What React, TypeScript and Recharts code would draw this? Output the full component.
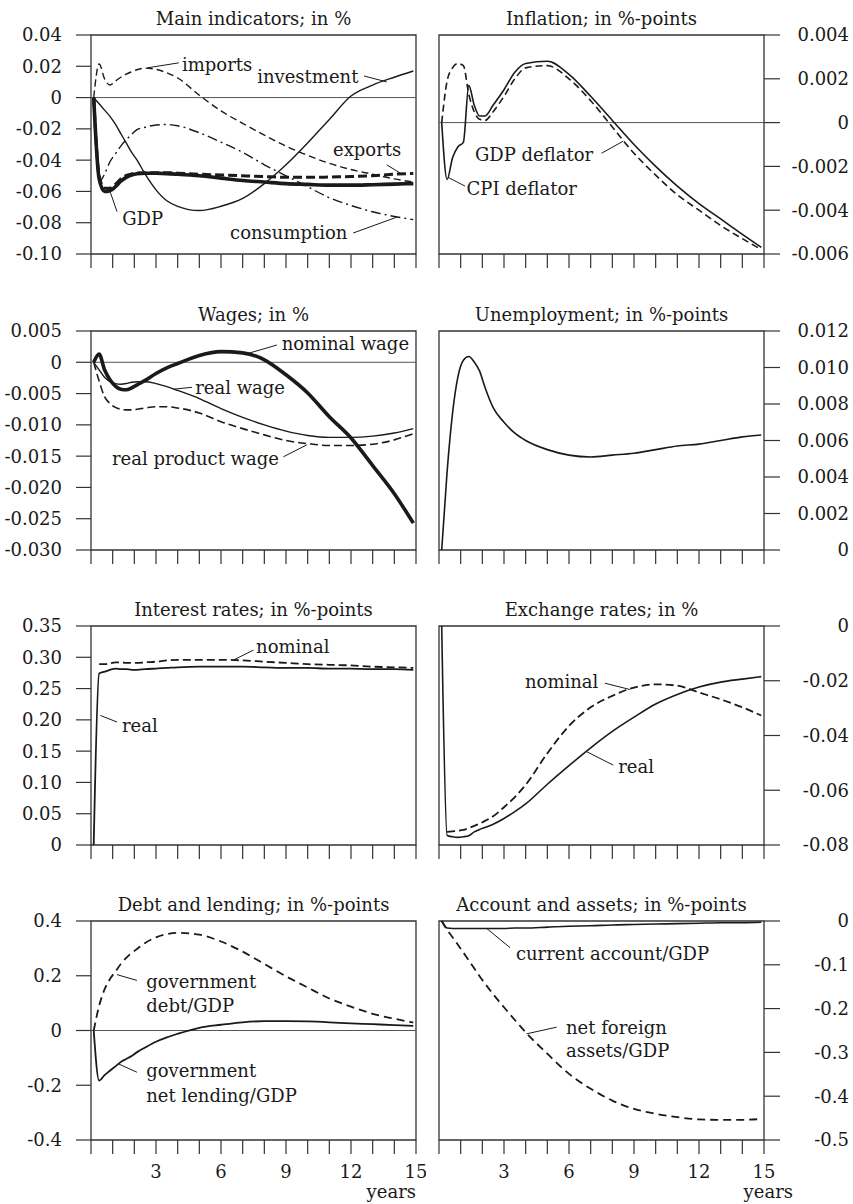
import React from 'react';
import {
  LineChart,
  Line,
  XAxis,
  YAxis,
  ReferenceLine,
  ReferenceArea,
  ReferenceDot,
  Label,
} from 'recharts';

const INK = '#1a1a1a';
const FRAME = '#333';

// simulation years (quarters early on, then yearly)
const YEARS = [0.125, 0.375, 0.625, 0.875, 1.125, 1.375, 1.625, 1.875, 2.125, 2.5, 3, 3.5, 4, 5, 6, 7, 8, 9, 10, 11, 12, 13, 14, 14.875];
const YEAR_TICKS = [0, 1, 2, 3, 4, 5, 6, 7, 8, 9, 10, 11, 12, 13, 14, 15];

// Main indicators; in %
const GDP = [0, -0.052, -0.06, -0.0595, -0.057, -0.0535, -0.051, -0.0495, -0.0487, -0.0484, -0.0484, -0.0486, -0.049, -0.05, -0.0515, -0.053, -0.054, -0.055, -0.0555, -0.056, -0.056, -0.0557, -0.0553, -0.055];
const EXPORTS = [0, -0.05, -0.058, -0.058, -0.0555, -0.052, -0.0498, -0.0488, -0.0482, -0.048, -0.048, -0.048, -0.0483, -0.049, -0.0495, -0.05, -0.0505, -0.051, -0.051, -0.0508, -0.0505, -0.05, -0.049, -0.0485];
const INVESTMENT = [0, -0.004, -0.008, -0.012, -0.017, -0.023, -0.029, -0.035, -0.04, -0.049, -0.059, -0.066, -0.0695, -0.0722, -0.0695, -0.0645, -0.055, -0.043, -0.029, -0.014, 0.001, 0.008, 0.013, 0.017];
const CONSUMPTION = [null, -0.055, -0.049, -0.041, -0.036, -0.031, -0.027, -0.0235, -0.0205, -0.019, -0.0175, -0.0172, -0.018, -0.0225, -0.0285, -0.035, -0.043, -0.05, -0.057, -0.064, -0.069, -0.073, -0.076, -0.078];
const IMPORTS = [0, 0.0215, 0.012, 0.008, 0.0105, 0.013, 0.015, 0.0165, 0.0178, 0.0188, 0.018, 0.0158, 0.0125, 0.0015, -0.0085, -0.0165, -0.024, -0.031, -0.037, -0.042, -0.046, -0.049, -0.052, -0.054];

// Inflation; in %-points
const CPI_DEFLATOR = [0, -0.0026, -0.0016, -0.0011, -0.0009, 0.0017, 0.0008, 0.0003, 0.0003, 0.0008, 0.0015, 0.0023, 0.0027, 0.0028, 0.0022, 0.0012, 0.0001, -0.001, -0.002, -0.0029, -0.0037, -0.0044, -0.0051, -0.0057];
const GDP_DEFLATOR = [0, 0.0019, 0.0025, 0.0027, 0.0026, 0.0013, 0.0005, 0.00015, 0.0001, 0.0005, 0.0012, 0.002, 0.0025, 0.0026, 0.002, 0.001, -0.0002, -0.0014, -0.0024, -0.0033, -0.004, -0.0047, -0.0053, -0.0058];

// Wages; in %
const NOMINAL_WAGE = [0, 0.0013, -0.0012, -0.0028, -0.0038, -0.0043, -0.0044, -0.0041, -0.0036, -0.0029, -0.0018, -0.0009, -0.0002, 0.0011, 0.0017, 0.0015, 0.0004, -0.002, -0.0049, -0.0087, -0.0121, -0.0165, -0.021, -0.0257];
const REAL_WAGE = [0, -0.0012, -0.0024, -0.0031, -0.0034, -0.0035, -0.0034, -0.0032, -0.0031, -0.0031, -0.0034, -0.0039, -0.0045, -0.0058, -0.0074, -0.0088, -0.01, -0.011, -0.0117, -0.012, -0.012, -0.0118, -0.0113, -0.0106];
const REAL_PRODUCT_WAGE = [0, -0.003, -0.0055, -0.0066, -0.0072, -0.0075, -0.0076, -0.0076, -0.0075, -0.0073, -0.0071, -0.0071, -0.0073, -0.0081, -0.0095, -0.0106, -0.0116, -0.0125, -0.013, -0.0133, -0.0133, -0.0131, -0.0124, -0.0114];

// Unemployment; in %-points
const UNEMPLOYMENT = [0, 0.0043, 0.0075, 0.0095, 0.0104, 0.0106, 0.0103, 0.0098, 0.0089, 0.0078, 0.007, 0.0064, 0.006, 0.0055, 0.0052, 0.0051, 0.0052, 0.0053, 0.0055, 0.0057, 0.0058, 0.006, 0.0062, 0.0063];

// Interest rates; in %-points
const REAL_RATE = [0, 0.274, 0.277, 0.28, 0.282, 0.281, 0.281, 0.28, 0.28, 0.281, 0.282, 0.283, 0.284, 0.285, 0.285, 0.285, 0.284, 0.283, 0.283, 0.282, 0.282, 0.281, 0.281, 0.28];
const NOMINAL_RATE = [null, 0.289, 0.289, 0.29, 0.292, 0.292, 0.291, 0.291, 0.291, 0.292, 0.293, 0.295, 0.296, 0.296, 0.296, 0.295, 0.293, 0.291, 0.289, 0.288, 0.287, 0.285, 0.284, 0.283];

// Exchange rates; in %
const REAL_FX = [0, -0.0765, -0.077, -0.0772, -0.077, -0.0766, -0.0752, -0.0743, -0.0736, -0.0724, -0.0703, -0.0678, -0.065, -0.0578, -0.051, -0.0445, -0.0385, -0.0333, -0.0285, -0.025, -0.0223, -0.0205, -0.0194, -0.0185];
const NOMINAL_FX = [null, -0.0752, -0.075, -0.0748, -0.0745, -0.0738, -0.073, -0.0722, -0.0712, -0.0695, -0.0662, -0.0625, -0.058, -0.0465, -0.0365, -0.0297, -0.0255, -0.0225, -0.0213, -0.0218, -0.0243, -0.0268, -0.0297, -0.0327];

// Debt and lending; in %-points
const GOV_DEBT = [0, 0.09, 0.15, 0.188, 0.215, 0.243, 0.265, 0.283, 0.298, 0.32, 0.34, 0.352, 0.357, 0.35, 0.325, 0.288, 0.243, 0.198, 0.157, 0.117, 0.087, 0.061, 0.043, 0.029];
const GOV_LENDING = [0, -0.183, -0.163, -0.147, -0.131, -0.115, -0.104, -0.093, -0.079, -0.062, -0.041, -0.025, -0.012, 0.01, 0.021, 0.03, 0.034, 0.034, 0.033, 0.03, 0.026, 0.023, 0.02, 0.017];

// Account and assets; in %-points
const CURRENT_ACCOUNT = [0, -0.016, -0.017, -0.017, -0.017, -0.017, -0.017, -0.017, -0.017, -0.017, -0.017, -0.016, -0.016, -0.014, -0.012, -0.011, -0.009, -0.008, -0.007, -0.006, -0.005, -0.004, -0.004, -0.003];
const NET_FOREIGN_ASSETS = [0, -0.02, -0.037, -0.054, -0.072, -0.09, -0.108, -0.126, -0.143, -0.167, -0.197, -0.226, -0.254, -0.303, -0.349, -0.383, -0.41, -0.429, -0.44, -0.448, -0.453, -0.454, -0.454, -0.452];

// y ticks per panel
const MAIN_TICKS = [0.04, 0.02, 0, -0.02, -0.04, -0.06, -0.08, -0.1];
const INFL_TICKS = [0.004, 0.002, 0, -0.002, -0.004, -0.006];
const WAGE_TICKS = [0.005, 0, -0.005, -0.01, -0.015, -0.02, -0.025, -0.03];
const UNEMP_TICKS = [0.012, 0.01, 0.008, 0.006, 0.004, 0.002, 0];
const RATE_TICKS = [0.35, 0.3, 0.25, 0.2, 0.15, 0.1, 0.05, 0];
const FX_TICKS = [0, -0.02, -0.04, -0.06, -0.08];
const DEBT_TICKS = [0.4, 0.2, 0, -0.2, -0.4];
const ACC_TICKS = [0, -0.1, -0.2, -0.3, -0.4, -0.5];

const PLOT_TOPS = [35, 331, 626, 921];
const PLOT_H = 219;

type Series = { name: string; values: (number | null)[]; width: number; dash?: string };
type Note = { text: string; t: number; v: number };
type Leader = [number, number, number, number];

interface PanelProps {
  title: string;
  col: 0 | 1;
  row: number;
  ticks: number[];
  decimals: number;
  series: Series[];
  notes: Note[];
  leaders: Leader[];
  zero?: boolean;
}

const fmt = (v: number, d: number) => (v === 0 ? '0' : v.toFixed(d));
const fmtYear = (v: number) => (v > 0 && v % 3 === 0 ? String(v) : '');

function Panel({ title, col, row, ticks, decimals, series, notes, leaders, zero }: PanelProps) {
  const isLeft = col === 0;
  const last = row === 3;
  const width = isLeft ? 426 : 427;
  const xh = last ? 64 : 30;
  const height = 35 + PLOT_H + xh;
  const top = PLOT_TOPS[row] - 35;
  const lo = Math.min(...ticks);
  const hi = Math.max(...ticks);

  const data = YEARS.map((t, i) => {
    const r: Record<string, number | null> = { t };
    series.forEach((s) => (r[s.name] = s.values[i]));
    return r;
  });

  const yTick = (p: any) => (
    <text x={isLeft ? p.x : p.x + 69} y={p.y} dy="0.36em" textAnchor="end" fontSize={18} fill={INK}>
      {fmt(p.payload.value, decimals)}
    </text>
  );

  return (
    <div style={{ position: 'absolute', left: isLeft ? 0 : 426, top, width, height }}>
      <LineChart
        width={width}
        height={height}
        data={data}
        margin={{ top: 35, right: isLeft ? 10 : 0, left: isLeft ? 0 : 13, bottom: 0 }}
      >
        <XAxis
          dataKey="t"
          type="number"
          domain={[0, 15]}
          ticks={YEAR_TICKS}
          interval={0}
          height={xh}
          axisLine={false}
          tickSize={14}
          tickMargin={11}
          tickLine={{ stroke: FRAME, strokeWidth: 1.2 }}
          tick={{ fontSize: 18, fill: INK }}
          tickFormatter={last ? fmtYear : () => ''}
        >
          {last && (
            <Label
              value="years"
              position="insideBottomRight"
              offset={0}
              dx={isLeft ? 0 : 29}
              dy={-6}
              fontSize={18}
              fill={INK}
            />
          )}
        </XAxis>
        <YAxis
          orientation={isLeft ? 'left' : 'right'}
          width={isLeft ? 91 : 89}
          type="number"
          domain={[lo, hi]}
          ticks={ticks}
          interval={0}
          axisLine={false}
          tickSize={isLeft ? 15 : 16}
          tickMargin={isLeft ? 14 : 0}
          tickLine={{ stroke: FRAME, strokeWidth: 1.2 }}
          tick={yTick}
        />
        <ReferenceArea x1={0} x2={15} y1={lo} y2={hi} fill="none" stroke={FRAME} strokeWidth={1.3} ifOverflow="visible" />
        {zero && <ReferenceLine y={0} stroke="#555" strokeWidth={1} />}
        {leaders.map((l, i) => (
          <ReferenceLine
            key={'l' + i}
            segment={[{ x: l[0], y: l[1] }, { x: l[2], y: l[3] }]}
            stroke={INK}
            strokeWidth={1}
            ifOverflow="visible"
          />
        ))}
        {series.map((s) => (
          <Line
            key={s.name}
            dataKey={s.name}
            type="monotone"
            stroke={INK}
            strokeWidth={s.width}
            strokeDasharray={s.dash}
            dot={false}
            activeDot={false}
            isAnimationActive={false}
          />
        ))}
        {notes.map((n, i) => (
          <ReferenceDot
            key={'n' + i}
            x={n.t}
            y={n.v}
            r={0}
            fill="none"
            stroke="none"
            ifOverflow="visible"
            label={{ value: n.text, position: 'right', offset: 0, fill: INK, fontSize: 18 }}
          />
        ))}
      </LineChart>
      <div
        style={{
          position: 'absolute',
          left: isLeft ? 91 : 13,
          width: 325,
          top: 7,
          textAlign: 'center',
          fontSize: 18,
          lineHeight: '24px',
          whiteSpace: 'nowrap',
        }}
      >
        {title}
      </div>
    </div>
  );
}

const PANELS: PanelProps[] = [
  {
    title: 'Main indicators; in %',
    col: 0,
    row: 0,
    ticks: MAIN_TICKS,
    decimals: 2,
    zero: true,
    series: [
      { name: 'imports', values: IMPORTS, width: 1.4, dash: '7 4' },
      { name: 'consumption', values: CONSUMPTION, width: 1.4, dash: '10 4 2 4' },
      { name: 'investment', values: INVESTMENT, width: 1.4 },
      { name: 'GDP', values: GDP, width: 3.6 },
      { name: 'exports', values: EXPORTS, width: 3, dash: '9 4' },
    ],
    notes: [
      { text: 'imports', t: 4.2, v: 0.0208 },
      { text: 'investment', t: 7.67, v: 0.0131 },
      { text: 'exports', t: 11.17, v: -0.0335 },
      { text: 'GDP', t: 1.44, v: -0.0775 },
      { text: 'consumption', t: 6.42, v: -0.0866 },
    ],
    leaders: [
      [2.6, 0.019, 4.05, 0.0222],
      [12.6, 0.0138, 13.65, 0.01],
      [13.65, -0.043, 14.3, -0.0485],
      [1.2, -0.0729, 0.89, -0.0605],
      [12.1, -0.0866, 14.1, -0.0765],
    ],
  },
  {
    title: 'Inflation; in %-points',
    col: 1,
    row: 0,
    ticks: INFL_TICKS,
    decimals: 3,
    zero: true,
    series: [
      { name: 'GDP deflator', values: GDP_DEFLATOR, width: 1.6, dash: '7 4' },
      { name: 'CPI deflator', values: CPI_DEFLATOR, width: 1.6 },
    ],
    notes: [
      { text: 'GDP deflator', t: 1.66, v: -0.00148 },
      { text: 'CPI deflator', t: 1.27, v: -0.003 },
    ],
    leaders: [
      [7.5, -0.0014, 8.5, -0.00085],
      [1.2, -0.0029, 0.42, -0.0025],
    ],
  },
  {
    title: 'Wages; in %',
    col: 0,
    row: 1,
    ticks: WAGE_TICKS,
    decimals: 3,
    zero: true,
    series: [
      { name: 'real product wage', values: REAL_PRODUCT_WAGE, width: 1.6, dash: '8 4' },
      { name: 'real wage', values: REAL_WAGE, width: 1.4 },
      { name: 'nominal wage', values: NOMINAL_WAGE, width: 3.6 },
    ],
    notes: [
      { text: 'nominal wage', t: 8.8, v: 0.003 },
      { text: 'real wage', t: 4.81, v: -0.0041 },
      { text: 'real product wage', t: 0.97, v: -0.01535 },
    ],
    leaders: [
      [8.58, 0.00276, 7.27, 0.00144],
      [4.66, -0.004, 3.8, -0.0043],
      [8.88, -0.0151, 9.96, -0.0132],
    ],
  },
  {
    title: 'Unemployment; in %-points',
    col: 1,
    row: 1,
    ticks: UNEMP_TICKS,
    decimals: 3,
    series: [{ name: 'unemployment', values: UNEMPLOYMENT, width: 1.6 }],
    notes: [],
    leaders: [],
  },
  {
    title: 'Interest rates; in %-points',
    col: 0,
    row: 2,
    ticks: RATE_TICKS,
    decimals: 2,
    series: [
      { name: 'nominal', values: NOMINAL_RATE, width: 1.8, dash: '8 4' },
      { name: 'real', values: REAL_RATE, width: 1.8 },
    ],
    notes: [
      { text: 'nominal', t: 7.62, v: 0.3168 },
      { text: 'real', t: 1.43, v: 0.1913 },
    ],
    leaders: [
      [7.5, 0.3115, 6.57, 0.2955],
      [1.2, 0.1966, 0.43, 0.207],
    ],
  },
  {
    title: 'Exchange rates; in %',
    col: 1,
    row: 2,
    ticks: FX_TICKS,
    decimals: 2,
    series: [
      { name: 'nominal', values: NOMINAL_FX, width: 1.8, dash: '8 4' },
      { name: 'real', values: REAL_FX, width: 1.6 },
    ],
    notes: [
      { text: 'nominal', t: 3.97, v: -0.0203 },
      { text: 'real', t: 8.27, v: -0.0514 },
    ],
    leaders: [
      [7.66, -0.0209, 8.81, -0.0232],
      [8.04, -0.0508, 6.81, -0.0459],
    ],
  },
  {
    title: 'Debt and lending; in %-points',
    col: 0,
    row: 3,
    ticks: DEBT_TICKS,
    decimals: 1,
    zero: true,
    series: [
      { name: 'debt', values: GOV_DEBT, width: 1.8, dash: '8 5' },
      { name: 'lending', values: GOV_LENDING, width: 1.8 },
    ],
    notes: [
      { text: 'government', t: 2.55, v: 0.1768 },
      { text: 'debt/GDP', t: 2.55, v: 0.0915 },
      { text: 'government', t: 2.55, v: -0.1465 },
      { text: 'net lending/GDP', t: 2.55, v: -0.238 },
    ],
    leaders: [
      [2.12, 0.183, 1.2, 0.204],
      [2.12, -0.1525, 1.27, -0.122],
    ],
  },
  {
    title: 'Account and assets; in %-points',
    col: 1,
    row: 3,
    ticks: ACC_TICKS,
    decimals: 1,
    series: [
      { name: 'nfa', values: NET_FOREIGN_ASSETS, width: 1.8, dash: '8 5' },
      { name: 'ca', values: CURRENT_ACCOUNT, width: 1.6 },
    ],
    notes: [
      { text: 'current account/GDP', t: 3.55, v: -0.0746 },
      { text: 'net foreign', t: 5.86, v: -0.2424 },
      { text: 'assets/GDP', t: 5.86, v: -0.2957 },
    ],
    leaders: [
      [3.28, -0.0609, 2.2, -0.017],
      [5.43, -0.2424, 4.04, -0.2576],
    ],
  },
];

export default function App() {
  return (
    <div
      style={{
        position: 'absolute',
        left: 0,
        top: 0,
        width: 853,
        height: 1204,
        overflow: 'hidden',
        background: '#fff',
        fontFamily: "'DejaVu Serif', serif",
        color: INK,
      }}
    >
      {PANELS.map((p) => (
        <Panel key={p.title} {...p} />
      ))}
    </div>
  );
}
